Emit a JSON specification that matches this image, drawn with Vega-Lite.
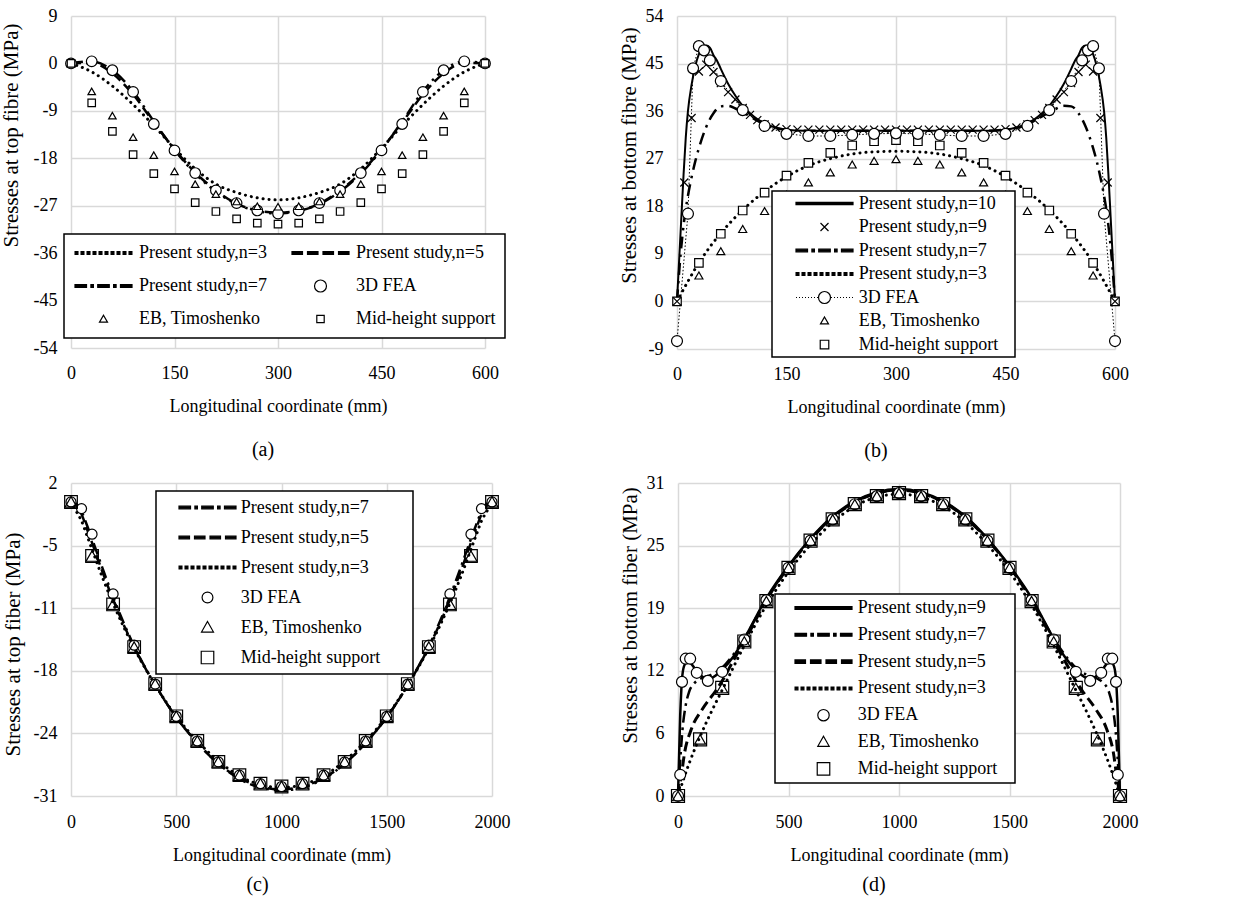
{
"$schema": "https://vega.github.io/schema/vega-lite/v6.json",
"background": "white",
"padding": {"left": 0, "top": 7, "right": 5, "bottom": 5},
"config": {
 "font": "Liberation Serif",
 "view": {"stroke": null},
 "axis": {"labelFont": "Liberation Serif", "labelFontSize": 18, "labelColor": "black", "titleFont": "Liberation Serif", "titleFontSize": 18, "titleFontWeight": "normal", "titleColor": "black", "ticks": false, "tickSize": 0, "domain": false, "grid": true, "gridColor": "#d9d9d9", "gridWidth": 1.5, "labelFlush": false, "labelOverlap": false},
 "axisX": {"labelPadding": 16, "titlePadding": 15},
 "axisY": {"labelPadding": 14, "titlePadding": 6, "titleFontSize": 21},
 "legend": {"labelFont": "Liberation Serif", "labelFontSize": 18, "labelColor": "black", "labelLimit": 600, "symbolSize": 3249, "symbolStrokeWidth": 1.2, "symbolType": "stroke", "fillColor": "white", "strokeColor": "black", "strokeWidth": 1.5, "title": null},
 "title": {"font": "Liberation Serif", "fontSize": 20, "fontWeight": "normal", "color": "black"}
},
"datasets": {
"a": [
{"s":"n3","x":0,"y":0},{"s":"n3","x":30,"y":-1.6},{"s":"n3","x":60,"y":-4.3},{"s":"n3","x":90,"y":-7.8},{"s":"n3","x":120,"y":-11.8},{"s":"n3","x":150,"y":-16.1},{"s":"n3","x":180,"y":-20},{"s":"n3","x":210,"y":-22.9},{"s":"n3","x":240,"y":-24.5},{"s":"n3","x":270,"y":-25.5},{"s":"n3","x":300,"y":-25.9},{"s":"n3","x":330,"y":-25.5},{"s":"n3","x":360,"y":-24.5},{"s":"n3","x":390,"y":-22.9},{"s":"n3","x":420,"y":-20},{"s":"n3","x":450,"y":-16.1},{"s":"n3","x":480,"y":-11.8},{"s":"n3","x":510,"y":-7.8},{"s":"n3","x":540,"y":-4.3},{"s":"n3","x":570,"y":-1.6},{"s":"n3","x":600,"y":0},
{"s":"n5","x":0,"y":0},{"s":"n5","x":30,"y":0.1},{"s":"n5","x":60,"y":-1.9},{"s":"n5","x":90,"y":-5.9},{"s":"n5","x":120,"y":-11.2},{"s":"n5","x":150,"y":-16.3},{"s":"n5","x":180,"y":-20.7},{"s":"n5","x":210,"y":-24.1},{"s":"n5","x":240,"y":-26.6},{"s":"n5","x":270,"y":-27.9},{"s":"n5","x":300,"y":-28.3},{"s":"n5","x":330,"y":-27.9},{"s":"n5","x":360,"y":-26.6},{"s":"n5","x":390,"y":-24.1},{"s":"n5","x":420,"y":-20.7},{"s":"n5","x":450,"y":-16.3},{"s":"n5","x":480,"y":-11.2},{"s":"n5","x":510,"y":-5.9},{"s":"n5","x":540,"y":-1.9},{"s":"n5","x":570,"y":0.1},{"s":"n5","x":600,"y":0},
{"s":"n7","x":0,"y":0},{"s":"n7","x":30,"y":0.4},{"s":"n7","x":60,"y":-1.3},{"s":"n7","x":90,"y":-5.3},{"s":"n7","x":120,"y":-11},{"s":"n7","x":150,"y":-16.4},{"s":"n7","x":180,"y":-20.9},{"s":"n7","x":210,"y":-24.3},{"s":"n7","x":240,"y":-26.7},{"s":"n7","x":270,"y":-28},{"s":"n7","x":300,"y":-28.5},{"s":"n7","x":330,"y":-28},{"s":"n7","x":360,"y":-26.7},{"s":"n7","x":390,"y":-24.3},{"s":"n7","x":420,"y":-20.9},{"s":"n7","x":450,"y":-16.4},{"s":"n7","x":480,"y":-11},{"s":"n7","x":510,"y":-5.3},{"s":"n7","x":540,"y":-1.3},{"s":"n7","x":570,"y":0.4},{"s":"n7","x":600,"y":0},
{"s":"fea","x":0,"y":0},{"s":"fea","x":30,"y":0.4},{"s":"fea","x":60,"y":-1.3},{"s":"fea","x":90,"y":-5.4},{"s":"fea","x":120,"y":-11.5},{"s":"fea","x":150,"y":-16.5},{"s":"fea","x":180,"y":-20.8},{"s":"fea","x":210,"y":-24.1},{"s":"fea","x":240,"y":-26.5},{"s":"fea","x":270,"y":-27.9},{"s":"fea","x":300,"y":-28.5},{"s":"fea","x":330,"y":-27.9},{"s":"fea","x":360,"y":-26.5},{"s":"fea","x":390,"y":-24.1},{"s":"fea","x":420,"y":-20.8},{"s":"fea","x":450,"y":-16.5},{"s":"fea","x":480,"y":-11.5},{"s":"fea","x":510,"y":-5.4},{"s":"fea","x":540,"y":-1.3},{"s":"fea","x":570,"y":0.4},{"s":"fea","x":600,"y":0},
{"s":"eb","x":0,"y":0},{"s":"eb","x":30,"y":-5.3},{"s":"eb","x":60,"y":-9.9},{"s":"eb","x":90,"y":-14},{"s":"eb","x":120,"y":-17.4},{"s":"eb","x":150,"y":-20.5},{"s":"eb","x":180,"y":-22.9},{"s":"eb","x":210,"y":-24.8},{"s":"eb","x":240,"y":-26.2},{"s":"eb","x":270,"y":-27.1},{"s":"eb","x":300,"y":-27.2},{"s":"eb","x":330,"y":-27.1},{"s":"eb","x":360,"y":-26.2},{"s":"eb","x":390,"y":-24.8},{"s":"eb","x":420,"y":-22.9},{"s":"eb","x":450,"y":-20.5},{"s":"eb","x":480,"y":-17.4},{"s":"eb","x":510,"y":-14},{"s":"eb","x":540,"y":-9.9},{"s":"eb","x":570,"y":-5.3},{"s":"eb","x":600,"y":0},
{"s":"mid","x":0,"y":0},{"s":"mid","x":30,"y":-7.5},{"s":"mid","x":60,"y":-12.9},{"s":"mid","x":90,"y":-17.3},{"s":"mid","x":120,"y":-20.9},{"s":"mid","x":150,"y":-23.8},{"s":"mid","x":180,"y":-26.4},{"s":"mid","x":210,"y":-28.1},{"s":"mid","x":240,"y":-29.5},{"s":"mid","x":270,"y":-30.3},{"s":"mid","x":300,"y":-30.5},{"s":"mid","x":330,"y":-30.3},{"s":"mid","x":360,"y":-29.5},{"s":"mid","x":390,"y":-28.1},{"s":"mid","x":420,"y":-26.4},{"s":"mid","x":450,"y":-23.8},{"s":"mid","x":480,"y":-20.9},{"s":"mid","x":510,"y":-17.3},{"s":"mid","x":540,"y":-12.9},{"s":"mid","x":570,"y":-7.5},{"s":"mid","x":600,"y":0}
],
"b": [
{"s":"n10","x":0,"y":0},{"s":"n10","x":3,"y":8},{"s":"n10","x":6,"y":16},{"s":"n10","x":9,"y":24},{"s":"n10","x":12,"y":31},{"s":"n10","x":15,"y":36},{"s":"n10","x":20,"y":41},{"s":"n10","x":25,"y":44.5},{"s":"n10","x":30,"y":46.8},{"s":"n10","x":35,"y":48},{"s":"n10","x":40,"y":48.4},{"s":"n10","x":45,"y":48},{"s":"n10","x":50,"y":46.6},{"s":"n10","x":55,"y":45.5},{"s":"n10","x":60,"y":44},{"s":"n10","x":70,"y":41.2},{"s":"n10","x":80,"y":38.9},{"s":"n10","x":90,"y":37},{"s":"n10","x":100,"y":35.6},{"s":"n10","x":110,"y":34.5},{"s":"n10","x":120,"y":33.7},{"s":"n10","x":135,"y":32.9},{"s":"n10","x":150,"y":32.5},{"s":"n10","x":175,"y":32.3},{"s":"n10","x":200,"y":32.3},{"s":"n10","x":250,"y":32.3},{"s":"n10","x":300,"y":32.3},{"s":"n10","x":350,"y":32.3},{"s":"n10","x":400,"y":32.3},{"s":"n10","x":425,"y":32.3},{"s":"n10","x":450,"y":32.5},{"s":"n10","x":465,"y":32.9},{"s":"n10","x":480,"y":33.7},{"s":"n10","x":490,"y":34.5},{"s":"n10","x":500,"y":35.6},{"s":"n10","x":510,"y":37},{"s":"n10","x":520,"y":38.9},{"s":"n10","x":530,"y":41.2},{"s":"n10","x":540,"y":44},{"s":"n10","x":545,"y":45.5},{"s":"n10","x":550,"y":46.6},{"s":"n10","x":555,"y":48},{"s":"n10","x":560,"y":48.4},{"s":"n10","x":565,"y":48},{"s":"n10","x":570,"y":46.8},{"s":"n10","x":575,"y":44.5},{"s":"n10","x":580,"y":41},{"s":"n10","x":585,"y":36},{"s":"n10","x":588,"y":31},{"s":"n10","x":591,"y":24},{"s":"n10","x":594,"y":16},{"s":"n10","x":597,"y":8},{"s":"n10","x":600,"y":0},
{"s":"n9","x":0,"y":0},{"s":"n9","x":10,"y":22.5},{"s":"n9","x":20,"y":34.7},{"s":"n9","x":30,"y":43.5},{"s":"n9","x":40,"y":44.8},{"s":"n9","x":50,"y":43.4},{"s":"n9","x":60,"y":41.3},{"s":"n9","x":70,"y":39.6},{"s":"n9","x":80,"y":38.2},{"s":"n9","x":90,"y":36.6},{"s":"n9","x":100,"y":35.3},{"s":"n9","x":110,"y":34.3},{"s":"n9","x":120,"y":33.5},{"s":"n9","x":135,"y":32.9},{"s":"n9","x":150,"y":32.6},{"s":"n9","x":165,"y":32.5},{"s":"n9","x":180,"y":32.5},{"s":"n9","x":195,"y":32.5},{"s":"n9","x":210,"y":32.5},{"s":"n9","x":225,"y":32.5},{"s":"n9","x":240,"y":32.5},{"s":"n9","x":255,"y":32.5},{"s":"n9","x":270,"y":32.5},{"s":"n9","x":285,"y":32.5},{"s":"n9","x":300,"y":32.5},{"s":"n9","x":315,"y":32.5},{"s":"n9","x":330,"y":32.5},{"s":"n9","x":345,"y":32.5},{"s":"n9","x":360,"y":32.5},{"s":"n9","x":375,"y":32.5},{"s":"n9","x":390,"y":32.5},{"s":"n9","x":405,"y":32.5},{"s":"n9","x":420,"y":32.5},{"s":"n9","x":435,"y":32.5},{"s":"n9","x":450,"y":32.6},{"s":"n9","x":465,"y":32.9},{"s":"n9","x":480,"y":33.5},{"s":"n9","x":490,"y":34.3},{"s":"n9","x":500,"y":35.3},{"s":"n9","x":510,"y":36.6},{"s":"n9","x":520,"y":38.2},{"s":"n9","x":530,"y":39.6},{"s":"n9","x":540,"y":41.3},{"s":"n9","x":550,"y":43.4},{"s":"n9","x":560,"y":44.8},{"s":"n9","x":570,"y":43.5},{"s":"n9","x":580,"y":34.7},{"s":"n9","x":590,"y":22.5},{"s":"n9","x":600,"y":0},
{"s":"n7","x":0,"y":0},{"s":"n7","x":5,"y":9},{"s":"n7","x":10,"y":15.5},{"s":"n7","x":15,"y":20},{"s":"n7","x":20,"y":23.5},{"s":"n7","x":25,"y":26.5},{"s":"n7","x":30,"y":29},{"s":"n7","x":40,"y":33},{"s":"n7","x":50,"y":35.6},{"s":"n7","x":60,"y":36.9},{"s":"n7","x":70,"y":37},{"s":"n7","x":80,"y":36.5},{"s":"n7","x":90,"y":35.8},{"s":"n7","x":100,"y":35},{"s":"n7","x":110,"y":34.2},{"s":"n7","x":120,"y":33.5},{"s":"n7","x":135,"y":32.8},{"s":"n7","x":150,"y":32.5},{"s":"n7","x":175,"y":32.3},{"s":"n7","x":200,"y":32.3},{"s":"n7","x":250,"y":32.3},{"s":"n7","x":300,"y":32.3},{"s":"n7","x":350,"y":32.3},{"s":"n7","x":400,"y":32.3},{"s":"n7","x":425,"y":32.3},{"s":"n7","x":450,"y":32.5},{"s":"n7","x":465,"y":32.8},{"s":"n7","x":480,"y":33.5},{"s":"n7","x":490,"y":34.2},{"s":"n7","x":500,"y":35},{"s":"n7","x":510,"y":35.8},{"s":"n7","x":520,"y":36.5},{"s":"n7","x":530,"y":37},{"s":"n7","x":540,"y":36.9},{"s":"n7","x":550,"y":35.6},{"s":"n7","x":560,"y":33},{"s":"n7","x":570,"y":29},{"s":"n7","x":575,"y":26.5},{"s":"n7","x":580,"y":23.5},{"s":"n7","x":585,"y":20},{"s":"n7","x":590,"y":15.5},{"s":"n7","x":595,"y":9},{"s":"n7","x":600,"y":0},
{"s":"n3","x":0,"y":0},{"s":"n3","x":15,"y":3.8},{"s":"n3","x":30,"y":7.3},{"s":"n3","x":45,"y":10.3},{"s":"n3","x":60,"y":12.9},{"s":"n3","x":90,"y":17.3},{"s":"n3","x":120,"y":20.8},{"s":"n3","x":150,"y":23.6},{"s":"n3","x":180,"y":25.7},{"s":"n3","x":210,"y":27},{"s":"n3","x":240,"y":27.9},{"s":"n3","x":270,"y":28.3},{"s":"n3","x":300,"y":28.4},{"s":"n3","x":330,"y":28.3},{"s":"n3","x":360,"y":27.9},{"s":"n3","x":390,"y":27},{"s":"n3","x":420,"y":25.7},{"s":"n3","x":450,"y":23.6},{"s":"n3","x":480,"y":20.8},{"s":"n3","x":510,"y":17.3},{"s":"n3","x":540,"y":12.9},{"s":"n3","x":555,"y":10.3},{"s":"n3","x":570,"y":7.3},{"s":"n3","x":585,"y":3.8},{"s":"n3","x":600,"y":0},
{"s":"fea","x":0,"y":-7.5},{"s":"fea","x":15,"y":16.6},{"s":"fea","x":22,"y":44.1},{"s":"fea","x":30,"y":48.3},{"s":"fea","x":37,"y":47.5},{"s":"fea","x":45,"y":45.6},{"s":"fea","x":60,"y":41.7},{"s":"fea","x":90,"y":36.2},{"s":"fea","x":120,"y":33.2},{"s":"fea","x":150,"y":31.7},{"s":"fea","x":180,"y":31.3},{"s":"fea","x":210,"y":31.3},{"s":"fea","x":240,"y":31.5},{"s":"fea","x":270,"y":31.7},{"s":"fea","x":300,"y":31.8},{"s":"fea","x":330,"y":31.7},{"s":"fea","x":360,"y":31.5},{"s":"fea","x":390,"y":31.3},{"s":"fea","x":420,"y":31.3},{"s":"fea","x":450,"y":31.7},{"s":"fea","x":480,"y":33.2},{"s":"fea","x":510,"y":36.2},{"s":"fea","x":540,"y":41.7},{"s":"fea","x":555,"y":45.6},{"s":"fea","x":563,"y":47.5},{"s":"fea","x":570,"y":48.3},{"s":"fea","x":578,"y":44.1},{"s":"fea","x":585,"y":16.6},{"s":"fea","x":600,"y":-7.5},
{"s":"eb","x":0,"y":0},{"s":"eb","x":30,"y":4.9},{"s":"eb","x":60,"y":9.5},{"s":"eb","x":90,"y":13.7},{"s":"eb","x":120,"y":17.1},{"s":"eb","x":150,"y":20.2},{"s":"eb","x":180,"y":22.5},{"s":"eb","x":210,"y":24.4},{"s":"eb","x":240,"y":25.9},{"s":"eb","x":270,"y":26.6},{"s":"eb","x":300,"y":26.9},{"s":"eb","x":330,"y":26.6},{"s":"eb","x":360,"y":25.9},{"s":"eb","x":390,"y":24.4},{"s":"eb","x":420,"y":22.5},{"s":"eb","x":450,"y":20.2},{"s":"eb","x":480,"y":17.1},{"s":"eb","x":510,"y":13.7},{"s":"eb","x":540,"y":9.5},{"s":"eb","x":570,"y":4.9},{"s":"eb","x":600,"y":0},
{"s":"mid","x":0,"y":0},{"s":"mid","x":30,"y":7.3},{"s":"mid","x":60,"y":12.8},{"s":"mid","x":90,"y":17.2},{"s":"mid","x":120,"y":20.6},{"s":"mid","x":150,"y":23.8},{"s":"mid","x":180,"y":26.2},{"s":"mid","x":210,"y":28.1},{"s":"mid","x":240,"y":29.5},{"s":"mid","x":270,"y":30.3},{"s":"mid","x":300,"y":30.5},{"s":"mid","x":330,"y":30.3},{"s":"mid","x":360,"y":29.5},{"s":"mid","x":390,"y":28.1},{"s":"mid","x":420,"y":26.2},{"s":"mid","x":450,"y":23.8},{"s":"mid","x":480,"y":20.6},{"s":"mid","x":510,"y":17.2},{"s":"mid","x":540,"y":12.8},{"s":"mid","x":570,"y":7.3},{"s":"mid","x":600,"y":0}
],
"c": [
{"s":"n7","x":0,"y":0},{"s":"n7","x":25,"y":-0.2},{"s":"n7","x":50,"y":-1},{"s":"n7","x":75,"y":-2.4},{"s":"n7","x":100,"y":-3.9},{"s":"n7","x":150,"y":-7},{"s":"n7","x":200,"y":-10},{"s":"n7","x":300,"y":-15.2},{"s":"n7","x":400,"y":-19.3},{"s":"n7","x":500,"y":-22.7},{"s":"n7","x":600,"y":-25.4},{"s":"n7","x":700,"y":-27.6},{"s":"n7","x":800,"y":-29.2},{"s":"n7","x":900,"y":-30.1},{"s":"n7","x":1000,"y":-30.4},{"s":"n7","x":1100,"y":-30.1},{"s":"n7","x":1200,"y":-29.2},{"s":"n7","x":1300,"y":-27.6},{"s":"n7","x":1400,"y":-25.4},{"s":"n7","x":1500,"y":-22.7},{"s":"n7","x":1600,"y":-19.3},{"s":"n7","x":1700,"y":-15.2},{"s":"n7","x":1800,"y":-10},{"s":"n7","x":1850,"y":-7},{"s":"n7","x":1900,"y":-3.9},{"s":"n7","x":1925,"y":-2.4},{"s":"n7","x":1950,"y":-1},{"s":"n7","x":1975,"y":-0.2},{"s":"n7","x":2000,"y":0},
{"s":"n5","x":0,"y":0},{"s":"n5","x":25,"y":-0.4},{"s":"n5","x":50,"y":-1.3},{"s":"n5","x":75,"y":-2.8},{"s":"n5","x":100,"y":-4.3},{"s":"n5","x":150,"y":-7.4},{"s":"n5","x":200,"y":-10.3},{"s":"n5","x":300,"y":-15.3},{"s":"n5","x":400,"y":-19.3},{"s":"n5","x":500,"y":-22.7},{"s":"n5","x":600,"y":-25.4},{"s":"n5","x":700,"y":-27.6},{"s":"n5","x":800,"y":-29.1},{"s":"n5","x":900,"y":-30},{"s":"n5","x":1000,"y":-30.3},{"s":"n5","x":1100,"y":-30},{"s":"n5","x":1200,"y":-29.1},{"s":"n5","x":1300,"y":-27.6},{"s":"n5","x":1400,"y":-25.4},{"s":"n5","x":1500,"y":-22.7},{"s":"n5","x":1600,"y":-19.3},{"s":"n5","x":1700,"y":-15.3},{"s":"n5","x":1800,"y":-10.3},{"s":"n5","x":1850,"y":-7.4},{"s":"n5","x":1900,"y":-4.3},{"s":"n5","x":1925,"y":-2.8},{"s":"n5","x":1950,"y":-1.3},{"s":"n5","x":1975,"y":-0.4},{"s":"n5","x":2000,"y":0},
{"s":"n3","x":0,"y":0},{"s":"n3","x":25,"y":-1},{"s":"n3","x":50,"y":-2},{"s":"n3","x":75,"y":-3.5},{"s":"n3","x":100,"y":-5},{"s":"n3","x":150,"y":-8},{"s":"n3","x":200,"y":-10.7},{"s":"n3","x":300,"y":-15.4},{"s":"n3","x":400,"y":-19.3},{"s":"n3","x":500,"y":-22.6},{"s":"n3","x":600,"y":-25.2},{"s":"n3","x":700,"y":-27.3},{"s":"n3","x":800,"y":-28.9},{"s":"n3","x":900,"y":-29.8},{"s":"n3","x":1000,"y":-30.1},{"s":"n3","x":1100,"y":-29.8},{"s":"n3","x":1200,"y":-28.9},{"s":"n3","x":1300,"y":-27.3},{"s":"n3","x":1400,"y":-25.2},{"s":"n3","x":1500,"y":-22.6},{"s":"n3","x":1600,"y":-19.3},{"s":"n3","x":1700,"y":-15.4},{"s":"n3","x":1800,"y":-10.7},{"s":"n3","x":1850,"y":-8},{"s":"n3","x":1900,"y":-5},{"s":"n3","x":1925,"y":-3.5},{"s":"n3","x":1950,"y":-2},{"s":"n3","x":1975,"y":-1},{"s":"n3","x":2000,"y":0},
{"s":"fea","x":0,"y":0},{"s":"fea","x":50,"y":-0.7},{"s":"fea","x":100,"y":-3.4},{"s":"fea","x":200,"y":-9.7},{"s":"fea","x":300,"y":-15.1},{"s":"fea","x":400,"y":-19.2},{"s":"fea","x":500,"y":-22.6},{"s":"fea","x":600,"y":-25.2},{"s":"fea","x":700,"y":-27.4},{"s":"fea","x":800,"y":-28.8},{"s":"fea","x":900,"y":-29.7},{"s":"fea","x":1000,"y":-30},{"s":"fea","x":1100,"y":-29.7},{"s":"fea","x":1200,"y":-28.8},{"s":"fea","x":1300,"y":-27.4},{"s":"fea","x":1400,"y":-25.2},{"s":"fea","x":1500,"y":-22.6},{"s":"fea","x":1600,"y":-19.2},{"s":"fea","x":1700,"y":-15.1},{"s":"fea","x":1800,"y":-9.7},{"s":"fea","x":1900,"y":-3.4},{"s":"fea","x":1950,"y":-0.7},{"s":"fea","x":2000,"y":0},
{"s":"eb","x":0,"y":0},{"s":"eb","x":100,"y":-5.7},{"s":"eb","x":200,"y":-10.8},{"s":"eb","x":300,"y":-15.3},{"s":"eb","x":400,"y":-19.2},{"s":"eb","x":500,"y":-22.6},{"s":"eb","x":600,"y":-25.2},{"s":"eb","x":700,"y":-27.4},{"s":"eb","x":800,"y":-28.8},{"s":"eb","x":900,"y":-29.7},{"s":"eb","x":1000,"y":-30},{"s":"eb","x":1100,"y":-29.7},{"s":"eb","x":1200,"y":-28.8},{"s":"eb","x":1300,"y":-27.4},{"s":"eb","x":1400,"y":-25.2},{"s":"eb","x":1500,"y":-22.6},{"s":"eb","x":1600,"y":-19.2},{"s":"eb","x":1700,"y":-15.3},{"s":"eb","x":1800,"y":-10.8},{"s":"eb","x":1900,"y":-5.7},{"s":"eb","x":2000,"y":0},
{"s":"mid","x":0,"y":0},{"s":"mid","x":100,"y":-5.7},{"s":"mid","x":200,"y":-10.8},{"s":"mid","x":300,"y":-15.3},{"s":"mid","x":400,"y":-19.2},{"s":"mid","x":500,"y":-22.6},{"s":"mid","x":600,"y":-25.2},{"s":"mid","x":700,"y":-27.4},{"s":"mid","x":800,"y":-28.8},{"s":"mid","x":900,"y":-29.7},{"s":"mid","x":1000,"y":-30},{"s":"mid","x":1100,"y":-29.7},{"s":"mid","x":1200,"y":-28.8},{"s":"mid","x":1300,"y":-27.4},{"s":"mid","x":1400,"y":-25.2},{"s":"mid","x":1500,"y":-22.6},{"s":"mid","x":1600,"y":-19.2},{"s":"mid","x":1700,"y":-15.3},{"s":"mid","x":1800,"y":-10.8},{"s":"mid","x":1900,"y":-5.7},{"s":"mid","x":2000,"y":0}
],
"d": [
{"s":"n9","x":0,"y":0},{"s":"n9","x":5,"y":4},{"s":"n9","x":10,"y":8},{"s":"n9","x":15,"y":10.5},{"s":"n9","x":20,"y":12},{"s":"n9","x":30,"y":13},{"s":"n9","x":45,"y":13.3},{"s":"n9","x":60,"y":13.1},{"s":"n9","x":80,"y":12.5},{"s":"n9","x":100,"y":12},{"s":"n9","x":125,"y":11.7},{"s":"n9","x":150,"y":11.7},{"s":"n9","x":175,"y":12},{"s":"n9","x":200,"y":12.5},{"s":"n9","x":250,"y":13.8},{"s":"n9","x":300,"y":15.6},{"s":"n9","x":400,"y":19.6},{"s":"n9","x":500,"y":22.8},{"s":"n9","x":600,"y":25.5},{"s":"n9","x":700,"y":27.7},{"s":"n9","x":800,"y":29.2},{"s":"n9","x":900,"y":30.1},{"s":"n9","x":1000,"y":30.4},{"s":"n9","x":1100,"y":30.1},{"s":"n9","x":1200,"y":29.2},{"s":"n9","x":1300,"y":27.7},{"s":"n9","x":1400,"y":25.5},{"s":"n9","x":1500,"y":22.8},{"s":"n9","x":1600,"y":19.6},{"s":"n9","x":1700,"y":15.6},{"s":"n9","x":1750,"y":13.8},{"s":"n9","x":1800,"y":12.5},{"s":"n9","x":1825,"y":12},{"s":"n9","x":1850,"y":11.7},{"s":"n9","x":1875,"y":11.7},{"s":"n9","x":1900,"y":12},{"s":"n9","x":1920,"y":12.5},{"s":"n9","x":1940,"y":13.1},{"s":"n9","x":1955,"y":13.3},{"s":"n9","x":1970,"y":13},{"s":"n9","x":1980,"y":12},{"s":"n9","x":1985,"y":10.5},{"s":"n9","x":1990,"y":8},{"s":"n9","x":1995,"y":4},{"s":"n9","x":2000,"y":0},
{"s":"n7","x":0,"y":0},{"s":"n7","x":10,"y":3.5},{"s":"n7","x":20,"y":6.5},{"s":"n7","x":35,"y":9},{"s":"n7","x":50,"y":10.3},{"s":"n7","x":75,"y":11.2},{"s":"n7","x":100,"y":11.6},{"s":"n7","x":150,"y":12},{"s":"n7","x":200,"y":12.7},{"s":"n7","x":250,"y":14},{"s":"n7","x":300,"y":15.6},{"s":"n7","x":400,"y":19.5},{"s":"n7","x":500,"y":22.7},{"s":"n7","x":600,"y":25.4},{"s":"n7","x":700,"y":27.6},{"s":"n7","x":800,"y":29.1},{"s":"n7","x":900,"y":30},{"s":"n7","x":1000,"y":30.3},{"s":"n7","x":1100,"y":30},{"s":"n7","x":1200,"y":29.1},{"s":"n7","x":1300,"y":27.6},{"s":"n7","x":1400,"y":25.4},{"s":"n7","x":1500,"y":22.7},{"s":"n7","x":1600,"y":19.5},{"s":"n7","x":1700,"y":15.6},{"s":"n7","x":1750,"y":14},{"s":"n7","x":1800,"y":12.7},{"s":"n7","x":1850,"y":12},{"s":"n7","x":1900,"y":11.6},{"s":"n7","x":1925,"y":11.2},{"s":"n7","x":1950,"y":10.3},{"s":"n7","x":1965,"y":9},{"s":"n7","x":1980,"y":6.5},{"s":"n7","x":1990,"y":3.5},{"s":"n7","x":2000,"y":0},
{"s":"n5","x":0,"y":0},{"s":"n5","x":15,"y":2},{"s":"n5","x":30,"y":4.3},{"s":"n5","x":60,"y":6.6},{"s":"n5","x":110,"y":8.6},{"s":"n5","x":170,"y":10.4},{"s":"n5","x":200,"y":11.4},{"s":"n5","x":250,"y":13.4},{"s":"n5","x":300,"y":15.3},{"s":"n5","x":400,"y":19.4},{"s":"n5","x":500,"y":22.7},{"s":"n5","x":600,"y":25.4},{"s":"n5","x":700,"y":27.6},{"s":"n5","x":800,"y":29.1},{"s":"n5","x":900,"y":30},{"s":"n5","x":1000,"y":30.3},{"s":"n5","x":1100,"y":30},{"s":"n5","x":1200,"y":29.1},{"s":"n5","x":1300,"y":27.6},{"s":"n5","x":1400,"y":25.4},{"s":"n5","x":1500,"y":22.7},{"s":"n5","x":1600,"y":19.4},{"s":"n5","x":1700,"y":15.3},{"s":"n5","x":1750,"y":13.4},{"s":"n5","x":1800,"y":11.4},{"s":"n5","x":1830,"y":10.4},{"s":"n5","x":1890,"y":8.6},{"s":"n5","x":1940,"y":6.6},{"s":"n5","x":1970,"y":4.3},{"s":"n5","x":1985,"y":2},{"s":"n5","x":2000,"y":0},
{"s":"n3","x":0,"y":0},{"s":"n3","x":50,"y":3.2},{"s":"n3","x":100,"y":5.9},{"s":"n3","x":150,"y":8.3},{"s":"n3","x":200,"y":10.5},{"s":"n3","x":300,"y":14.9},{"s":"n3","x":400,"y":18.9},{"s":"n3","x":500,"y":22.2},{"s":"n3","x":600,"y":24.9},{"s":"n3","x":700,"y":27.1},{"s":"n3","x":800,"y":28.7},{"s":"n3","x":900,"y":29.6},{"s":"n3","x":1000,"y":29.9},{"s":"n3","x":1100,"y":29.6},{"s":"n3","x":1200,"y":28.7},{"s":"n3","x":1300,"y":27.1},{"s":"n3","x":1400,"y":24.9},{"s":"n3","x":1500,"y":22.2},{"s":"n3","x":1600,"y":18.9},{"s":"n3","x":1700,"y":14.9},{"s":"n3","x":1800,"y":10.5},{"s":"n3","x":1850,"y":8.3},{"s":"n3","x":1900,"y":5.9},{"s":"n3","x":1950,"y":3.2},{"s":"n3","x":2000,"y":0},
{"s":"fea","x":0,"y":0},{"s":"fea","x":10,"y":2.1},{"s":"fea","x":18,"y":11.3},{"s":"fea","x":35,"y":13.6},{"s":"fea","x":55,"y":13.6},{"s":"fea","x":85,"y":12.2},{"s":"fea","x":135,"y":11.4},{"s":"fea","x":200,"y":12.3},{"s":"fea","x":300,"y":15.5},{"s":"fea","x":400,"y":19.4},{"s":"fea","x":500,"y":22.6},{"s":"fea","x":600,"y":25.3},{"s":"fea","x":700,"y":27.4},{"s":"fea","x":800,"y":28.9},{"s":"fea","x":900,"y":29.7},{"s":"fea","x":1000,"y":30},{"s":"fea","x":1100,"y":29.7},{"s":"fea","x":1200,"y":28.9},{"s":"fea","x":1300,"y":27.4},{"s":"fea","x":1400,"y":25.3},{"s":"fea","x":1500,"y":22.6},{"s":"fea","x":1600,"y":19.4},{"s":"fea","x":1700,"y":15.5},{"s":"fea","x":1800,"y":12.3},{"s":"fea","x":1865,"y":11.4},{"s":"fea","x":1915,"y":12.2},{"s":"fea","x":1945,"y":13.6},{"s":"fea","x":1965,"y":13.6},{"s":"fea","x":1982,"y":11.3},{"s":"fea","x":1990,"y":2.1},{"s":"fea","x":2000,"y":0},
{"s":"eb","x":0,"y":0},{"s":"eb","x":100,"y":5.6},{"s":"eb","x":200,"y":10.7},{"s":"eb","x":300,"y":15.3},{"s":"eb","x":400,"y":19.3},{"s":"eb","x":500,"y":22.6},{"s":"eb","x":600,"y":25.3},{"s":"eb","x":700,"y":27.4},{"s":"eb","x":800,"y":28.9},{"s":"eb","x":900,"y":29.7},{"s":"eb","x":1000,"y":30},{"s":"eb","x":1100,"y":29.7},{"s":"eb","x":1200,"y":28.9},{"s":"eb","x":1300,"y":27.4},{"s":"eb","x":1400,"y":25.3},{"s":"eb","x":1500,"y":22.6},{"s":"eb","x":1600,"y":19.3},{"s":"eb","x":1700,"y":15.3},{"s":"eb","x":1800,"y":10.7},{"s":"eb","x":1900,"y":5.6},{"s":"eb","x":2000,"y":0},
{"s":"mid","x":0,"y":0},{"s":"mid","x":100,"y":5.6},{"s":"mid","x":200,"y":10.7},{"s":"mid","x":300,"y":15.3},{"s":"mid","x":400,"y":19.3},{"s":"mid","x":500,"y":22.6},{"s":"mid","x":600,"y":25.3},{"s":"mid","x":700,"y":27.4},{"s":"mid","x":800,"y":28.9},{"s":"mid","x":900,"y":29.7},{"s":"mid","x":1000,"y":30},{"s":"mid","x":1100,"y":29.7},{"s":"mid","x":1200,"y":28.9},{"s":"mid","x":1300,"y":27.4},{"s":"mid","x":1400,"y":25.3},{"s":"mid","x":1500,"y":22.6},{"s":"mid","x":1600,"y":19.3},{"s":"mid","x":1700,"y":15.3},{"s":"mid","x":1800,"y":10.7},{"s":"mid","x":1900,"y":5.6},{"s":"mid","x":2000,"y":0}
]
},
"spacing": 13,
"resolve": {"scale": {"x": "independent", "y": "independent", "color": "independent"}, "legend": {"color": "independent"}},
"vconcat": [
{
"spacing": 111,
"resolve": {"scale": {"x": "independent", "y": "independent", "color": "independent"}, "legend": {"color": "independent"}},
"hconcat": [
{
 "width": 414, "height": 332,
 "data": {"name": "a"},
 "title": {"text": "(a)", "orient": "bottom", "offset": 25, "dx": -15},
 "encoding": {
  "x": {"field": "x", "type": "quantitative", "scale": {"domain": [0, 600], "nice": false, "zero": false}, "axis": {"values": [0, 150, 300, 450, 600], "title": "Longitudinal coordinate (mm)", "labelExpr": "'' + datum.value", "labelPadding": 16, "titlePadding": 15}},
  "y": {"field": "y", "type": "quantitative", "scale": {"domain": [-54, 9], "nice": false, "zero": false}, "axis": {"values": [-54, -45, -36, -27, -18, -9, 0, 9], "title": "Stresses at top fibre (MPa)", "labelExpr": "'' + datum.value", "titlePadding": 12, "titleY": 119}}
 },
 "layer": [
  {"transform": [{"filter": "datum.s === 'n3'"}], "mark": {"type": "line", "interpolate": "monotone", "strokeWidth": 3, "strokeDash": [0.1, 5.9], "strokeCap": "round"},
   "encoding": {"color": {"field": "s", "type": "nominal", "scale": {"domain": ["n3", "n5", "n7", "fea", "eb", "mid"], "range": ["black", "black", "black", "black", "black", "black"]},
    "legend": {"orient": "none", "legendX": -7, "legendY": 218, "direction": "horizontal", "columns": 2, "title": null, "padding": 9, "clipHeight": 20, "rowPadding": 13, "columnPadding": 23, "symbolOffset": 1, "labelOffset": 6,
     "labelExpr": "datum.value === 'n3' ? 'Present study,n=3' : datum.value === 'n5' ? 'Present study,n=5' : datum.value === 'n7' ? 'Present study,n=7' : datum.value === 'fea' ? '3D FEA' : datum.value === 'eb' ? 'EB, Timoshenko' : 'Mid-height support'",
     "encode": {"symbols": {"update": {
      "shape": {"signal": "datum.value === 'n3' ? 'M-0.997,-0.05h0.1v0.1h-0.1ZM-0.787,-0.05h0.1v0.1h-0.1ZM-0.576,-0.05h0.1v0.1h-0.1ZM-0.366,-0.05h0.1v0.1h-0.1ZM-0.155,-0.05h0.1v0.1h-0.1ZM0.055,-0.05h0.1v0.1h-0.1ZM0.266,-0.05h0.1v0.1h-0.1ZM0.476,-0.05h0.1v0.1h-0.1ZM0.687,-0.05h0.1v0.1h-0.1ZM0.897,-0.05h0.1v0.1h-0.1Z' : datum.value === 'n5' ? 'M-1,-0.045H-0.632V0.045H-1ZM-0.456,-0.045H-0.088V0.045H-0.456ZM0.088,-0.045H0.456V0.045H0.088ZM0.632,-0.045H1V0.045H0.632Z' : datum.value === 'n7' ? 'M-1,-0.045H-0.596V0.045H-1ZM-0.442,-0.045H-0.354V0.045H-0.442ZM-0.202,-0.045H0.202V0.045H-0.202ZM0.354,-0.045H0.442V0.045H0.354ZM0.596,-0.045H1V0.045H0.596Z' : datum.value === 'fea' ? 'M0.21,0C0.21,0.116,0.116,0.21,0,0.21C-0.116,0.21,-0.21,0.116,-0.21,0C-0.21,-0.116,-0.116,-0.21,0,-0.21C0.116,-0.21,0.21,-0.116,0.21,0Z' : datum.value === 'eb' ? 'M0,-0.13L0.14,0.11L-0.14,0.11Z' : 'M-0.13,-0.13H0.13V0.13H-0.13Z'"},
      "fill": {"signal": "indexof(['n3','n5','n7'], datum.value) >= 0 ? 'black' : 'white'"},
      "stroke": {"signal": "indexof(['n3','n5','n7'], datum.value) >= 0 ? 'transparent' : 'black'"},
      "opacity": {"value": 1}
     }}}}}}},
  {"transform": [{"filter": "datum.s === 'n5'"}], "mark": {"type": "line", "interpolate": "monotone", "color": "black", "strokeWidth": 2.5, "strokeDash": [10, 5]}, "encoding": {}},
  {"transform": [{"filter": "datum.s === 'n7'"}], "mark": {"type": "line", "interpolate": "monotone", "color": "black", "strokeWidth": 2.5, "strokeDash": [12, 5, 2.5, 5]}, "encoding": {}},
  {"transform": [{"filter": "datum.s === 'fea'"}], "mark": {"type": "point", "shape": "circle", "size": 113, "filled": true, "fill": "white", "stroke": "black", "strokeWidth": 1.2, "opacity": 1}, "encoding": {}},
  {"transform": [{"filter": "datum.s === 'eb'"}], "mark": {"type": "point", "shape": "triangle-up", "size": 56, "filled": true, "fill": "white", "stroke": "black", "strokeWidth": 1.2, "opacity": 1}, "encoding": {}},
  {"transform": [{"filter": "datum.s === 'mid'"}], "mark": {"type": "point", "shape": "square", "size": 56, "filled": true, "fill": "white", "stroke": "black", "strokeWidth": 1.2, "opacity": 1}, "encoding": {}}
 ]
},
{
 "width": 438, "height": 333,
 "data": {"name": "b"},
 "title": {"text": "(b)", "orient": "bottom", "offset": 25, "dx": -20},
 "encoding": {
  "x": {"field": "x", "type": "quantitative", "scale": {"domain": [0, 600], "nice": false, "zero": false}, "axis": {"values": [0, 150, 300, 450, 600], "title": "Longitudinal coordinate (mm)", "labelExpr": "'' + datum.value", "labelPadding": 16, "titlePadding": 15}},
  "y": {"field": "y", "type": "quantitative", "scale": {"domain": [-9, 54], "nice": false, "zero": false}, "axis": {"values": [-9, 0, 9, 18, 27, 36, 45, 54], "title": "Stresses at bottom fibre (MPa)", "labelExpr": "'' + datum.value", "titleY": 139}}
 },
 "layer": [
  {"transform": [{"filter": "datum.s === 'n3'"}], "mark": {"type": "line", "interpolate": "monotone", "strokeWidth": 3, "strokeDash": [0.1, 5.9], "strokeCap": "round"},
   "encoding": {"color": {"field": "s", "type": "nominal", "scale": {"domain": ["n10", "n9", "n7", "n3", "fea", "eb", "mid"], "range": ["black", "black", "black", "black", "black", "black", "black"]},
    "legend": {"orient": "none", "legendX": 95, "legendY": 175, "columns": 1, "title": null, "padding": 3.5, "clipHeight": 18, "rowPadding": 5.5, "symbolOffset": 19.5, "labelOffset": 4.8,
     "labelExpr": "(datum.value === 'n10' ? 'Present study,n=10' : datum.value === 'n9' ? 'Present study,n=9' : datum.value === 'n7' ? 'Present study,n=7' : datum.value === 'n3' ? 'Present study,n=3' : datum.value === 'fea' ? '3D FEA' : datum.value === 'eb' ? 'EB, Timoshenko' : 'Mid-height support') + '\u2800'",
     "encode": {"symbols": {"update": {
      "shape": {"signal": "datum.value === 'n10' ? 'M-1,-0.04H1V0.04H-1Z' : datum.value === 'n9' ? 'M-0.14,-0.14L0.14,0.14M-0.14,0.14L0.14,-0.14' : datum.value === 'n7' ? 'M-1,-0.045H-0.596V0.045H-1ZM-0.442,-0.045H-0.354V0.045H-0.442ZM-0.202,-0.045H0.202V0.045H-0.202ZM0.354,-0.045H0.442V0.045H0.354ZM0.596,-0.045H1V0.045H0.596Z' : datum.value === 'n3' ? 'M-0.997,-0.05h0.1v0.1h-0.1ZM-0.787,-0.05h0.1v0.1h-0.1ZM-0.576,-0.05h0.1v0.1h-0.1ZM-0.366,-0.05h0.1v0.1h-0.1ZM-0.155,-0.05h0.1v0.1h-0.1ZM0.055,-0.05h0.1v0.1h-0.1ZM0.266,-0.05h0.1v0.1h-0.1ZM0.476,-0.05h0.1v0.1h-0.1ZM0.687,-0.05h0.1v0.1h-0.1ZM0.897,-0.05h0.1v0.1h-0.1Z' : datum.value === 'fea' ? 'M-1,0h0.035M-0.895,0h0.035M-0.789,0h0.035M-0.684,0h0.035M-0.579,0h0.035M-0.474,0h0.035M-0.368,0h0.035M-0.263,0h0.035M0.228,0h0.035M0.333,0h0.035M0.439,0h0.035M0.544,0h0.035M0.649,0h0.035M0.754,0h0.035M0.86,0h0.035M0.965,0h0.035M0.21,0C0.21,0.116,0.116,0.21,0,0.21C-0.116,0.21,-0.21,0.116,-0.21,0C-0.21,-0.116,-0.116,-0.21,0,-0.21C0.116,-0.21,0.21,-0.116,0.21,0Z' : datum.value === 'eb' ? 'M0,-0.14L0.14,0.1L-0.14,0.1Z' : 'M-0.15,-0.15H0.15V0.15H-0.15Z'"},
      "fill": {"signal": "indexof(['n10','n7','n3'], datum.value) >= 0 ? 'black' : 'white'"},
      "stroke": {"signal": "indexof(['n10','n7','n3'], datum.value) >= 0 ? 'transparent' : 'black'"},
      "opacity": {"value": 1}
     }}}}}}},
  {"transform": [{"filter": "datum.s === 'n7'"}], "mark": {"type": "line", "interpolate": "monotone", "color": "black", "strokeWidth": 2.5, "strokeDash": [12, 6, 2.5, 6]}, "encoding": {}},
  {"transform": [{"filter": "datum.s === 'n10'"}], "mark": {"type": "line", "interpolate": "monotone", "color": "black", "strokeWidth": 2}, "encoding": {}},
  {"transform": [{"filter": "datum.s === 'fea'"}], "mark": {"type": "line", "color": "black", "strokeWidth": 1, "strokeDash": [1.5, 2]}, "encoding": {}},
  {"transform": [{"filter": "datum.s === 'eb'"}], "mark": {"type": "point", "shape": "triangle-up", "size": 64, "filled": true, "fill": "white", "stroke": "black", "strokeWidth": 1.2, "opacity": 1}, "encoding": {}},
  {"transform": [{"filter": "datum.s === 'mid'"}], "mark": {"type": "point", "shape": "square", "size": 72, "filled": true, "fill": "white", "stroke": "black", "strokeWidth": 1.2, "opacity": 1}, "encoding": {}},
  {"transform": [{"filter": "datum.s === 'n9'"}], "mark": {"type": "point", "shape": "M-1,-1L1,1M-1,1L1,-1", "size": 64, "filled": false, "stroke": "black", "strokeWidth": 1.2, "opacity": 1}, "encoding": {}},
  {"transform": [{"filter": "datum.s === 'fea'"}], "mark": {"type": "point", "shape": "circle", "size": 120, "filled": true, "fill": "white", "stroke": "black", "strokeWidth": 1.2, "opacity": 1}, "encoding": {}}
 ]
}
]
},
{
"spacing": 108,
"resolve": {"scale": {"x": "independent", "y": "independent", "color": "independent"}, "legend": {"color": "independent"}},
"hconcat": [
{
 "width": 421, "height": 313,
 "data": {"name": "c"},
 "title": {"text": "(c)", "orient": "bottom", "offset": 11, "dx": -24},
 "encoding": {
  "x": {"field": "x", "type": "quantitative", "scale": {"domain": [0, 2000], "nice": false, "zero": false}, "axis": {"values": [0, 500, 1000, 1500, 2000], "title": "Longitudinal coordinate (mm)", "labelExpr": "'' + datum.value", "labelPadding": 17, "titlePadding": 15}},
  "y": {"field": "y", "type": "quantitative", "scale": {"domain": [-31, 2], "nice": false, "zero": false}, "axis": {"values": [-31, -24.4, -17.8, -11.2, -4.6, 2], "title": "Stresses at top fiber (MPa)", "labelExpr": "'' + round(datum.value)", "titlePadding": 10, "titleY": 161}}
 },
 "layer": [
  {"transform": [{"filter": "datum.s === 'n3'"}], "mark": {"type": "line", "interpolate": "monotone", "strokeWidth": 3, "strokeDash": [0.1, 5.9], "strokeCap": "round"},
   "encoding": {"color": {"field": "s", "type": "nominal", "scale": {"domain": ["n7", "n5", "n3", "fea", "eb", "mid"], "range": ["black", "black", "black", "black", "black", "black"]},
    "legend": {"orient": "none", "legendX": 85, "legendY": 8, "columns": 1, "title": null, "padding": 6.5, "clipHeight": 20, "rowPadding": 10, "symbolOffset": 15.5, "labelOffset": 3.8,
     "labelExpr": "(datum.value === 'n7' ? 'Present study,n=7' : datum.value === 'n5' ? 'Present study,n=5' : datum.value === 'n3' ? 'Present study,n=3' : datum.value === 'fea' ? '3D FEA' : datum.value === 'eb' ? 'EB, Timoshenko' : 'Mid-height support') + '\u2800\u2800'",
     "encode": {"symbols": {"update": {
      "shape": {"signal": "datum.value === 'n3' ? 'M-0.997,-0.05h0.1v0.1h-0.1ZM-0.787,-0.05h0.1v0.1h-0.1ZM-0.576,-0.05h0.1v0.1h-0.1ZM-0.366,-0.05h0.1v0.1h-0.1ZM-0.155,-0.05h0.1v0.1h-0.1ZM0.055,-0.05h0.1v0.1h-0.1ZM0.266,-0.05h0.1v0.1h-0.1ZM0.476,-0.05h0.1v0.1h-0.1ZM0.687,-0.05h0.1v0.1h-0.1ZM0.897,-0.05h0.1v0.1h-0.1Z' : datum.value === 'n5' ? 'M-1,-0.045H-0.632V0.045H-1ZM-0.456,-0.045H-0.088V0.045H-0.456ZM0.088,-0.045H0.456V0.045H0.088ZM0.632,-0.045H1V0.045H0.632Z' : datum.value === 'n7' ? 'M-1,-0.045H-0.596V0.045H-1ZM-0.442,-0.045H-0.354V0.045H-0.442ZM-0.202,-0.045H0.202V0.045H-0.202ZM0.354,-0.045H0.442V0.045H0.354ZM0.596,-0.045H1V0.045H0.596Z' : datum.value === 'fea' ? 'M0.19,0C0.19,0.105,0.105,0.19,0,0.19C-0.105,0.19,-0.19,0.105,-0.19,0C-0.19,-0.105,-0.105,-0.19,0,-0.19C0.105,-0.19,0.19,-0.105,0.19,0Z' : datum.value === 'eb' ? 'M0,-0.21L0.21,0.16L-0.21,0.16Z' : 'M-0.22,-0.22H0.22V0.22H-0.22Z'"},
      "fill": {"signal": "indexof(['n3','n5','n7'], datum.value) >= 0 ? 'black' : 'white'"},
      "stroke": {"signal": "indexof(['n3','n5','n7'], datum.value) >= 0 ? 'transparent' : 'black'"},
      "opacity": {"value": 1}
     }}}}}}},
  {"transform": [{"filter": "datum.s === 'n5'"}], "mark": {"type": "line", "interpolate": "monotone", "color": "black", "strokeWidth": 2.5, "strokeDash": [10, 5]}, "encoding": {}},
  {"transform": [{"filter": "datum.s === 'n7'"}], "mark": {"type": "line", "interpolate": "monotone", "color": "black", "strokeWidth": 2.5, "strokeDash": [12, 5, 2.5, 5]}, "encoding": {}},
  {"transform": [{"filter": "datum.s === 'fea'"}], "mark": {"type": "point", "shape": "circle", "size": 100, "filled": true, "fill": "white", "stroke": "black", "strokeWidth": 1.2, "opacity": 1}, "encoding": {}},
  {"transform": [{"filter": "datum.s === 'mid'"}], "mark": {"type": "point", "shape": "square", "size": 160, "filled": false, "stroke": "black", "strokeWidth": 1.2, "opacity": 1}, "encoding": {}},
  {"transform": [{"filter": "datum.s === 'eb'"}], "mark": {"type": "point", "shape": "triangle-up", "size": 144, "filled": false, "stroke": "black", "strokeWidth": 1.2, "opacity": 1}, "encoding": {}}
 ]
},
{
 "width": 442, "height": 313,
 "data": {"name": "d"},
 "title": {"text": "(d)", "orient": "bottom", "offset": 11, "dx": -25},
 "encoding": {
  "x": {"field": "x", "type": "quantitative", "scale": {"domain": [0, 2000], "nice": false, "zero": false}, "axis": {"values": [0, 500, 1000, 1500, 2000], "title": "Longitudinal coordinate (mm)", "labelExpr": "'' + datum.value", "labelPadding": 17, "titlePadding": 15}},
  "y": {"field": "y", "type": "quantitative", "scale": {"domain": [0, 31], "nice": false, "zero": false}, "axis": {"values": [0, 6.2, 12.4, 18.6, 24.8, 31], "title": "Stresses at bottom fiber (MPa)", "labelExpr": "'' + round(datum.value)", "titleY": 132}}
 },
 "layer": [
  {"transform": [{"filter": "datum.s === 'n3'"}], "mark": {"type": "line", "interpolate": "monotone", "strokeWidth": 3, "strokeDash": [0.1, 5.9], "strokeCap": "round"},
   "encoding": {"color": {"field": "s", "type": "nominal", "scale": {"domain": ["n9", "n7", "n5", "n3", "fea", "eb", "mid"], "range": ["black", "black", "black", "black", "black", "black", "black"]},
    "legend": {"orient": "none", "legendX": 97, "legendY": 111, "columns": 1, "title": null, "padding": 4, "clipHeight": 20, "rowPadding": 6.8, "symbolOffset": 15, "labelOffset": 4.8,
     "labelExpr": "(datum.value === 'n9' ? 'Present study,n=9' : datum.value === 'n7' ? 'Present study,n=7' : datum.value === 'n5' ? 'Present study,n=5' : datum.value === 'n3' ? 'Present study,n=3' : datum.value === 'fea' ? '3D FEA' : datum.value === 'eb' ? 'EB, Timoshenko' : 'Mid-height support') + '\u2800'",
     "encode": {"symbols": {"update": {
      "shape": {"signal": "datum.value === 'n9' ? 'M-1,-0.045H1V0.045H-1Z' : datum.value === 'n3' ? 'M-0.997,-0.05h0.1v0.1h-0.1ZM-0.787,-0.05h0.1v0.1h-0.1ZM-0.576,-0.05h0.1v0.1h-0.1ZM-0.366,-0.05h0.1v0.1h-0.1ZM-0.155,-0.05h0.1v0.1h-0.1ZM0.055,-0.05h0.1v0.1h-0.1ZM0.266,-0.05h0.1v0.1h-0.1ZM0.476,-0.05h0.1v0.1h-0.1ZM0.687,-0.05h0.1v0.1h-0.1ZM0.897,-0.05h0.1v0.1h-0.1Z' : datum.value === 'n5' ? 'M-1,-0.06H-0.632V0.06H-1ZM-0.456,-0.06H-0.088V0.06H-0.456ZM0.088,-0.06H0.456V0.06H0.088ZM0.632,-0.06H1V0.06H0.632Z' : datum.value === 'n7' ? 'M-1,-0.05H-0.596V0.05H-1ZM-0.442,-0.05H-0.354V0.05H-0.442ZM-0.202,-0.05H0.202V0.05H-0.202ZM0.354,-0.05H0.442V0.05H0.354ZM0.596,-0.05H1V0.05H0.596Z' : datum.value === 'fea' ? 'M0.2,0C0.2,0.11,0.11,0.2,0,0.2C-0.11,0.2,-0.2,0.11,-0.2,0C-0.2,-0.11,-0.11,-0.2,0,-0.2C0.11,-0.2,0.2,-0.11,0.2,0Z' : datum.value === 'eb' ? 'M0,-0.2L0.2,0.15L-0.2,0.15Z' : 'M-0.22,-0.22H0.22V0.22H-0.22Z'"},
      "fill": {"signal": "indexof(['n9','n7','n5','n3'], datum.value) >= 0 ? 'black' : 'white'"},
      "stroke": {"signal": "indexof(['n9','n7','n5','n3'], datum.value) >= 0 ? 'transparent' : 'black'"},
      "opacity": {"value": 1}
     }}}}}}},
  {"transform": [{"filter": "datum.s === 'n5'"}], "mark": {"type": "line", "interpolate": "monotone", "color": "black", "strokeWidth": 3, "strokeDash": [10, 5]}, "encoding": {}},
  {"transform": [{"filter": "datum.s === 'n7'"}], "mark": {"type": "line", "interpolate": "monotone", "color": "black", "strokeWidth": 2.5, "strokeDash": [12, 5, 2.5, 5]}, "encoding": {}},
  {"transform": [{"filter": "datum.s === 'n9'"}], "mark": {"type": "line", "interpolate": "monotone", "color": "black", "strokeWidth": 2.5}, "encoding": {}},
  {"transform": [{"filter": "datum.s === 'fea'"}], "mark": {"type": "point", "shape": "circle", "size": 120, "filled": true, "fill": "white", "stroke": "black", "strokeWidth": 1.2, "opacity": 1}, "encoding": {}},
  {"transform": [{"filter": "datum.s === 'mid'"}], "mark": {"type": "point", "shape": "square", "size": 169, "filled": false, "stroke": "black", "strokeWidth": 1.2, "opacity": 1}, "encoding": {}},
  {"transform": [{"filter": "datum.s === 'eb'"}], "mark": {"type": "point", "shape": "triangle-up", "size": 121, "filled": false, "stroke": "black", "strokeWidth": 1.2, "opacity": 1}, "encoding": {}}
 ]
}
]
}
]
}
